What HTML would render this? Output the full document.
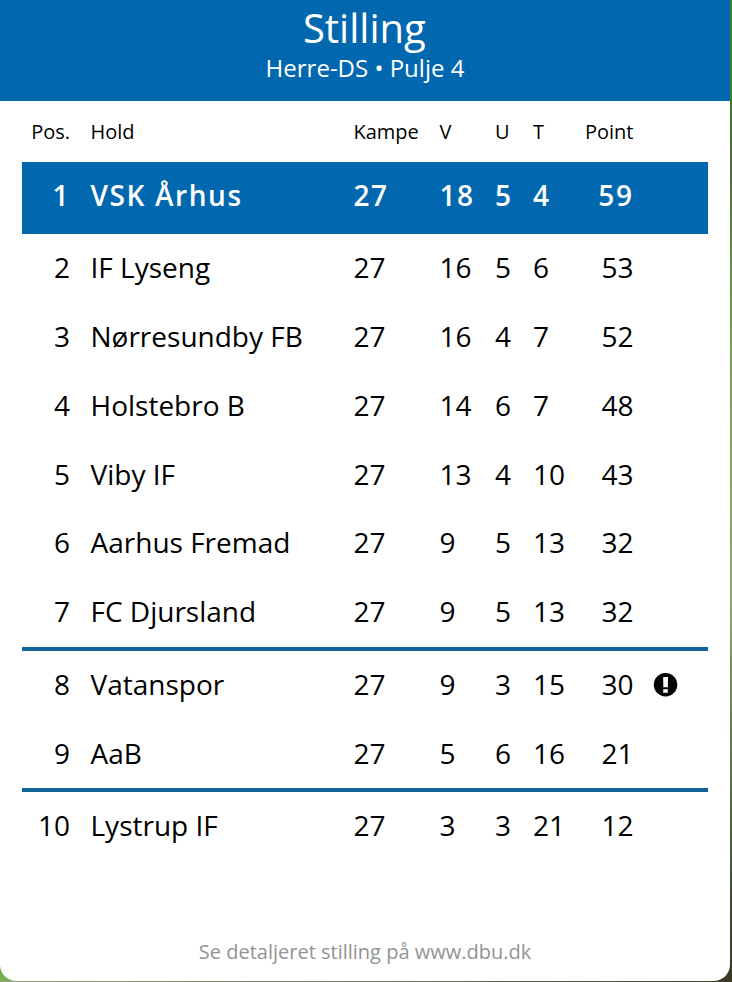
<!DOCTYPE html>
<html lang="da">
<head>
<meta charset="utf-8">
<title>Stilling</title>
<style>
html,body{margin:0;padding:0;}
body{width:732px;height:982px;overflow:hidden;position:relative;
  background:linear-gradient(180deg,#3e7e2c 0px,#3e7e2c 100px,#4d6d3a 170px,#779a40 300px,#8ca468 600px,#55703f 790px,#3f4a2c 900px,#3a3a22 982px);
  font-family:"Open Sans","Liberation Sans",sans-serif;color:#000;}
.bgl{position:absolute;left:0;top:940px;width:40px;height:42px;background:#74b04f;}
.bgb{position:absolute;left:0;top:981px;width:732px;height:1px;background:linear-gradient(90deg,#98a088 0%,#7a7f66 40%,#3f4028 100%);}
.card{position:absolute;left:0;top:0;width:730px;height:981px;background:#fff;
  border-radius:0 0 16.5px 16.5px;overflow:hidden;}
.head{position:absolute;left:0;top:0;width:730px;height:101px;background:#0168b0;color:#fff;text-align:center;}
.title{position:absolute;left:-0.7px;width:730px;top:2px;font-size:40px;line-height:52px;}
.sub{position:absolute;left:0;width:730px;top:53px;font-size:24px;line-height:30px;}
.hlbg{position:absolute;left:22px;top:162px;width:686px;height:72px;background:#0168b0;}
.row{position:absolute;left:22px;width:686px;height:69px;font-size:28px;line-height:69px;}
.row span{position:absolute;top:0;white-space:nowrap;}
.hdr{font-size:20px;height:40px;line-height:40px;}
.pos{right:638px;text-align:right;}
.hold{left:68.5px;}
.k{left:331.4px;}
.v{left:417.5px;}
.u{left:473px;}
.t{left:511px;}
.p{right:74.5px;text-align:right;}
.hl{color:#fff;}
.hl span{font-weight:600;letter-spacing:1.6px;}
.line{position:absolute;left:22px;width:686px;height:4px;background:#0e6398;}
.warn{position:absolute;left:653px;top:672px;width:26px;height:26px;}
.foot{position:absolute;left:0;width:730px;top:937px;text-align:center;color:#939393;font-size:20px;line-height:30px;}
</style>
</head>
<body>
<div class="bgl"></div>
<div class="bgb"></div>
<div class="card">
  <div class="head">
    <div class="title">Stilling</div>
    <div class="sub">Herre-DS • Pulje 4</div>
  </div>
  <div class="row hdr" style="top:112px"><span class="pos">Pos.</span><span class="hold">Hold</span><span class="k">Kampe</span><span class="v">V</span><span class="u">U</span><span class="t">T</span><span class="p">Point</span></div>
  <div class="hlbg"></div>
  <div class="row hl" style="top:160.5px"><span class="pos">1</span><span class="hold">VSK Århus</span><span class="k">27</span><span class="v">18</span><span class="u">5</span><span class="t">4</span><span class="p">59</span></div>
  <div class="row" style="top:232.7px"><span class="pos">2</span><span class="hold">IF Lyseng</span><span class="k">27</span><span class="v">16</span><span class="u">5</span><span class="t">6</span><span class="p">53</span></div>
  <div class="row" style="top:301.5px"><span class="pos">3</span><span class="hold">Nørresundby FB</span><span class="k">27</span><span class="v">16</span><span class="u">4</span><span class="t">7</span><span class="p">52</span></div>
  <div class="row" style="top:371.2px"><span class="pos">4</span><span class="hold">Holstebro B</span><span class="k">27</span><span class="v">14</span><span class="u">6</span><span class="t">7</span><span class="p">48</span></div>
  <div class="row" style="top:440.2px"><span class="pos">5</span><span class="hold">Viby IF</span><span class="k">27</span><span class="v">13</span><span class="u">4</span><span class="t">10</span><span class="p">43</span></div>
  <div class="row" style="top:508.1px"><span class="pos">6</span><span class="hold">Aarhus Fremad</span><span class="k">27</span><span class="v">9</span><span class="u">5</span><span class="t">13</span><span class="p">32</span></div>
  <div class="row" style="top:576.9px"><span class="pos">7</span><span class="hold">FC Djursland</span><span class="k">27</span><span class="v">9</span><span class="u">5</span><span class="t">13</span><span class="p">32</span></div>
  <div class="line" style="top:647px"></div>
  <div class="row" style="top:649.9px"><span class="pos">8</span><span class="hold">Vatanspor</span><span class="k">27</span><span class="v">9</span><span class="u">3</span><span class="t">15</span><span class="p">30</span></div>
  <div class="row" style="top:719.2px"><span class="pos">9</span><span class="hold">AaB</span><span class="k">27</span><span class="v">5</span><span class="u">6</span><span class="t">16</span><span class="p">21</span></div>
  <div class="line" style="top:788.3px"></div>
  <div class="row" style="top:791.4px"><span class="pos">10</span><span class="hold">Lystrup IF</span><span class="k">27</span><span class="v">3</span><span class="u">3</span><span class="t">21</span><span class="p">12</span></div>
  <svg class="warn" viewBox="0 0 26 26"><circle cx="12.55" cy="12.7" r="11.75" fill="#050505"/><path d="M10.15 5.1h4.9l-0.2 10.2h-4.5z" fill="#fff"/><rect x="10.2" y="17.2" width="4.6" height="3.6" fill="#fff"/></svg>
  <div class="foot">Se detaljeret stilling på www.dbu.dk</div>
</div>
</body>
</html>
